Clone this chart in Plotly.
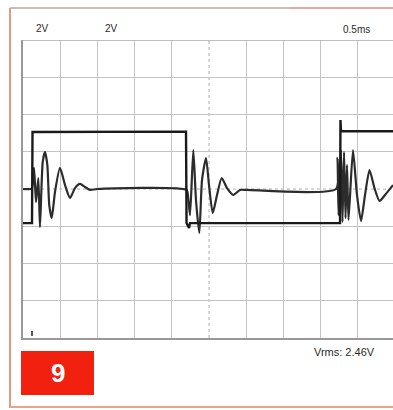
import plotly.graph_objects as go

# Channel A: square drive signal (time in ms, voltage in V)
ch_a_t = [0.000, 0.121, 0.128, 2.191, 2.198, 2.231, 2.245, 4.261, 4.267, 4.274, 4.973]
ch_a_v = [-1.83, -1.83, 3.06, 3.08, -1.83, -2.09, -1.83, -1.83, 3.70, 3.10, 3.10]

# Channel B: damped ringing at each switching edge
ch_b_t = [0.000, 0.117, 0.148, 0.175, 0.206, 0.228, 0.265, 0.296, 0.327, 0.353,
          0.386, 0.430, 0.497, 0.565, 0.632, 0.699, 0.766, 0.833, 0.901, 0.995,
          2.198, 2.218, 2.245, 2.289, 2.325, 2.370, 2.406, 2.460, 2.500, 2.550,
          2.608, 2.671, 2.742, 2.827, 2.917, 3.011,
          4.207, 4.227, 4.241, 4.274, 4.294, 4.315, 4.335, 4.355, 4.375, 4.435,
          4.489, 4.543, 4.597, 4.657, 4.724, 4.792, 4.866, 4.973]
ch_b_v = [0.00, 0.03, 1.13, -0.70, 0.59, -2.04, 1.45, 1.99, 1.29, -0.86,
          -1.56, -0.16, 1.13, 0.21, -0.48, 0.05, 0.27, 0.11, -0.05, 0.00,
          -0.05, -0.38, -1.40, 2.09, -0.59, -2.36, 0.48, 1.66, 0.21, -1.29,
          -0.32, 0.59, 0.05, -0.32, -0.05, -0.05,
          0.00, 1.66, -1.40, 2.09, -1.77, 1.99, -1.56, 1.29, -1.66, 2.09,
          -0.32, -1.72, -0.32, 1.02, 0.05, -0.64, -0.32, 0.21]

# Graticule: 0.5 ms/div horizontally, 2 V/div vertically
x_grid = [0.5, 1.0, 1.5, 2.0, 3.0, 3.5, 4.0, 4.5]
y_grid = [-6, -4, -2, 2, 4, 6]
x_centre = 2.5
y_centre = 0

W, H = 393, 410
x0_px, top_px, bot_px = 23, 40, 338


def px(x):
    return x / W


def py(y):
    return 1 - y / H


fig = go.Figure()
fig.add_trace(go.Scatter(x=ch_b_t, y=ch_b_v, mode="lines",
                         line=dict(color="#2c2c2c", width=2.2, shape="spline", smoothing=0.6),
                         hoverinfo="skip"))
fig.add_trace(go.Scatter(x=ch_a_t, y=ch_a_v, mode="lines",
                         line=dict(color="#1a1a1a", width=2.4),
                         hoverinfo="skip"))

grid_col = "#c4c4c4"
fig.update_xaxes(range=[0, 4.973], tickvals=x_grid, showticklabels=False, ticks="",
                 showgrid=True, gridcolor=grid_col, gridwidth=1, zeroline=False,
                 showline=True, linecolor="#999999", linewidth=1.5,
                 domain=[px(x0_px), 1.0], fixedrange=True)
fig.update_yaxes(range=[-8, 8], tickvals=y_grid, showticklabels=False, ticks="",
                 showgrid=True, gridcolor=grid_col, gridwidth=1, zeroline=False,
                 showline=True, linecolor="#999999", linewidth=1.5,
                 domain=[py(bot_px), py(top_px)], fixedrange=True)

shapes = [
    # dotted centre lines of the graticule
    dict(type="line", xref="x", yref="y", x0=x_centre, x1=x_centre, y0=-8, y1=8,
         line=dict(color="#b0b0b0", width=1, dash="dot"), layer="below"),
    dict(type="line", xref="x", yref="y", x0=0, x1=4.973, y0=y_centre, y1=y_centre,
         line=dict(color="#b0b0b0", width=1, dash="dot"), layer="below"),
    # top edge of the graticule
    dict(type="line", xref="paper", yref="y", x0=px(x0_px), x1=1.0, y0=8, y1=8,
         line=dict(color="#a8a8b4", width=1.5)),
    # trigger marker
    dict(type="line", xref="paper", yref="paper", x0=px(32), x1=px(32), y0=py(336), y1=py(331),
         line=dict(color="#222222", width=1.5)),
    # outer frame
    dict(type="line", xref="paper", yref="paper", x0=px(10), x1=px(10), y0=py(8), y1=py(408),
         line=dict(color="#e39a7e", width=2)),
    dict(type="line", xref="paper", yref="paper", x0=px(10), x1=px(290), y0=py(8), y1=py(8),
         line=dict(color="#bba99f", width=1.5)),
    dict(type="line", xref="paper", yref="paper", x0=px(290), x1=1.0, y0=py(8), y1=py(8),
         line=dict(color="#e08a80", width=1.5)),
    dict(type="line", xref="paper", yref="paper", x0=px(10), x1=1.0, y0=py(407), y1=py(407),
         line=dict(color="#e8a58e", width=2)),
    # number badge
    dict(type="rect", xref="paper", yref="paper", x0=px(21), x1=px(94), y0=py(395), y1=py(351),
         fillcolor="#f2200f", line=dict(width=0)),
]

label_font = dict(family="Liberation Sans Narrow, Liberation Sans, Arial", size=10, color="#2a2a2a")
annotations = [
    dict(text="2V", x=px(42), y=py(29), xref="paper", yref="paper", showarrow=False,
         font=label_font, xanchor="center", yanchor="middle"),
    dict(text="2V", x=px(111), y=py(29), xref="paper", yref="paper", showarrow=False,
         font=label_font, xanchor="center", yanchor="middle"),
    dict(text="0.5ms", x=px(372), y=py(30), xref="paper", yref="paper", showarrow=False,
         font=label_font, xanchor="right", yanchor="middle"),
    dict(text="Vrms: 2.46V", x=px(377), y=py(352), xref="paper", yref="paper", showarrow=False,
         font=dict(family="Liberation Sans Narrow, Liberation Sans, Arial", size=11, color="#2a2a2a"),
         xanchor="right", yanchor="middle"),
    dict(text="<b>9</b>", x=px(57.5), y=py(373), xref="paper", yref="paper", showarrow=False,
         font=dict(family="Liberation Sans, Arial", size=26, color="#ffffff"),
         xanchor="center", yanchor="middle"),
]

fig.update_layout(width=W, height=H, autosize=False,
                  margin=dict(l=0, r=0, t=0, b=0, pad=0),
                  paper_bgcolor="#ffffff", plot_bgcolor="#ffffff",
                  showlegend=False, shapes=shapes, annotations=annotations)

fig.write_html("out.html", config={"displayModeBar": False})
